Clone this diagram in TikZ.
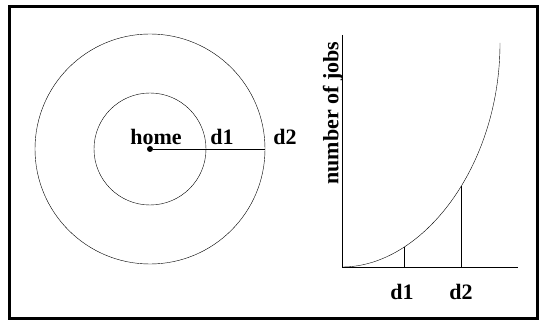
\documentclass[tikz,border=0pt]{standalone}
\usepackage{fontspec}
\setmainfont{Liberation Serif}
\usetikzlibrary{calc}

\begin{document}
\begin{tikzpicture}[x=1pt,y=-1pt,lbl/.style={font=\fontsize{22}{25}\selectfont\bfseries,inner sep=0pt}]
\useasboundingbox(0,0)rectangle(540,320);
\draw[line width=2.5pt](9.5,6.5)rectangle(537.5,318.5);
% circles round home
\node[circle,fill,inner sep=0pt,minimum size=6pt](home)at(150,149){};
\draw(home.center)circle(56);\draw(home.center)circle(115);
\coordinate(rim)at(265,149);\draw(home)--(rim);
\node[lbl](hl)at(156,137){home};\node[lbl](ra)at(222,137){d1};\node[lbl](rb)at(285,137){d2};
% jobs against distance
\coordinate(ytop)at(342,35);\coordinate(orig)at(342,267);\coordinate(xend)at(518,267);
\draw(ytop)--(orig)--(xend);
\draw(orig)..controls(422,267)and(500,167)..(500,43);
\coordinate(ta)at(404,247);\coordinate(tb)at(461,186);
\draw(ta)--(ta|-orig);\draw(tb)--(tb|-orig);
\node[lbl,rotate=90](yl)at(333,113){number of jobs};
\node[lbl](xa)at(402,292){d1};\node[lbl](xb)at(461,292){d2};
\end{tikzpicture}
\end{document}
